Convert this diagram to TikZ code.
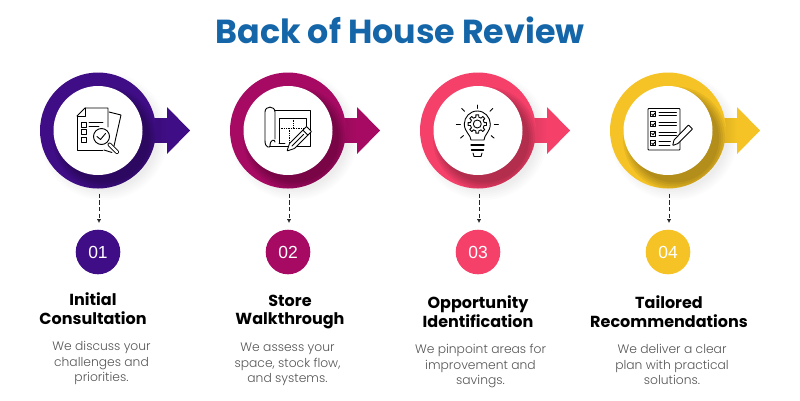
\documentclass[tikz,border=0pt]{standalone}
\usepackage{fontspec}
\setmainfont{Poppins}
\newfontfamily\lightfont{Poppins Light}
\newfontfamily\numfont{Liberation Sans}
\usetikzlibrary{arrows.meta}

\definecolor{stepA}{HTML}{3F0D85}
\definecolor{stepB}{HTML}{A70A63}
\definecolor{stepC}{HTML}{F5406A}
\definecolor{stepD}{HTML}{F5C325}
\definecolor{headblue}{HTML}{1466A9}
\definecolor{bodygrey}{HTML}{555555}

\tikzset{
  ringnode/.style={circle, minimum size=116pt, inner sep=0pt},
  holenode/.style={circle, fill=white, minimum size=89pt, inner sep=0pt},
  numnode/.style={circle, minimum size=44.6pt, inner sep=0pt, text=white, font=\numfont\fontsize{17.5}{20}\selectfont},
  flowdash/.style={black!85, line width=0.8pt, dash pattern=on 4.3pt off 2.4pt, shorten <=5pt, shorten >=6.5pt, -{Latex[length=4pt,width=4.5pt]}},
  stepname/.style={align=center, inner sep=0pt, font=\bfseries\fontsize{16}{18.8}\selectfont},
  stepbody/.style={align=center, inner sep=0pt, text=bodygrey, font=\lightfont\fontsize{12.3}{15.4}\selectfont},
  iconline/.style={black, line width=0.9pt, line join=round, line cap=round},
  iconthick/.style={black, line width=1.3pt, line cap=round}
}

\begin{document}
\begin{tikzpicture}[x=1pt, y=-1pt]
  \useasboundingbox (0,0) rectangle (800,400);

  \node[text=headblue, inner sep=0pt, font=\bfseries\fontsize{33.3}{36}\selectfont] (maintitle) at (400, 30) {Back of House Review};

  \foreach \i/\x/\col/\num in {1/98/stepA/01, 2/288/stepB/02, 3/478/stepC/03, 4/668/stepD/04}
  {
  \begin{scope}[shift={(\x,0)}]
    % soft shadow round the ring
    \foreach \r in {54,56,...,64}
    {
    \fill[black, opacity=0.012] (6,136) circle (\r pt);
    }
    \fill[\col] (50,118.5) -- (69,118.5) -- (69,107) -- (92,130.5) -- (69,154) -- (69,142) -- (50,142) -- cycle;
    \shade[left color=\col!88!black, right color=\col] (50,118.5) rectangle (69,142);
    \node[ringnode, fill=\col] (ring\i) at (0,130.5) {};
    \begin{scope}
      \clip (0,130.5) circle (58pt);
      \foreach \r in {44,46,...,52}
      {
      \fill[black, opacity=0.06] (7,138.5) circle (\r pt);
      }
    \end{scope}
    \node[holenode] (hole\i) at (0,130.5) {};
    \node[numnode, fill=\col] (num\i) at (0,252) {\num};
  \end{scope}
  \draw[flowdash] ([xshift=1pt]ring\i.south) -- ([xshift=1pt]num\i.north);
  }

  % labels of the four steps
  \node[stepname] (name1) at (93, 309) {Initial\\Consultation};
  \node[stepname] (name2) at (290, 312) {Store\\Walkthrough};
  \node[stepname] (name3) at (478, 312) {Opportunity\\Identification};
  \node[stepname] (name4) at (669, 312) {Tailored\\Recommendations};

  \node[stepbody] (body1) at (101.5, 363) {We discuss your\\challenges and\\priorities.};
  \node[stepbody] (body2) at (287.5, 364.5) {We assess your\\space, stock flow,\\and systems.};
  \node[stepbody] (body3) at (480.5, 366) {We pinpoint areas for\\improvement and\\savings.};
  \node[stepbody] (body4) at (672, 364.5) {We deliver a clear\\plan with practical\\solutions.};

  % icon 1: papers and magnifier
  \draw[iconline] (109,112) -- (121,115) -- (114,146);
  \draw[iconline] (104,150) -- (112,152.5);
  \draw[iconline] (77,116) -- (85,108) -- (108,108) -- (108,127);
  \draw[iconline] (85,108) -- (85,116) -- (77,116) -- (77,150) -- (103,150);
  \foreach \y in {122,129.5,137}
  {
  \draw[iconline] (81,\y) rectangle (86,\y+5);
  }
  \draw[iconline] (89,122.7) -- (103,122.7);
  \draw[iconline] (89,126) -- (99,126);
  \draw[iconline, fill=white] (101.5,136.5) circle (8pt);
  \draw[iconline] (97,136.5) -- (100.5,139.5) -- (105.5,133.5);
  \draw[black, line width=4pt, line cap=round] (109.5,144.5) -- (117,152);
  \draw[white, line width=2.2pt, line cap=round] (109.5,144.5) -- (117,152);

  % icon 2: plan and pencil
  \draw[iconline] (275,110) -- (310,110) -- (310,146) -- (270,146);
  \draw[iconline] (265,141) -- (265,112) .. controls (265,105.5) and (275,105.5) .. (275,112) -- (275,139);
  \draw[iconline] (265,141) .. controls (265,148) and (270,148) .. (270,146) .. controls (270,139) and (275,139) .. (275,142);
  \draw[iconline] (279,143) -- (279,118.3) -- (306,118.3) -- (306,128);
  \draw[black, line width=0.7pt, densely dotted] (279,128.3) -- (306,128.3);
  \draw[black, line width=0.7pt, densely dotted] (293,118) -- (293,128);
  \draw[black, line width=0.7pt, densely dotted] (289,128) -- (289,143);
  \draw[iconline] (279,143) -- (285,143);
  \draw[iconline, fill=white, rounded corners=0.6pt] (287,151) -- (289.5,143.5) -- (306.5,126.5) -- (311.5,131.5) -- (294.5,148.5) -- cycle;
  \draw[iconline] (302.9,130.1) -- (307.9,135.1);
  \draw[iconline] (292,146) -- (303.5,134.5);

  % icon 3: bulb with gear
  \coordinate (gearc) at (477.3,124);
  \draw[iconline] (471,140) .. controls (471,135) and (464.3,132) .. (464.3,124) .. controls (464.3,117) and (470,111) .. (477.3,111) .. controls (484.6,111) and (490.3,117) .. (490.3,124) .. controls (490.3,132) and (484,135) .. (484,140) -- cycle;
  \draw[iconline] ([shift={(-12:7)}]gearc) foreach \a in {0,45,...,315}
  { -- ([shift={(\a-12:7)}]gearc) -- ([shift={(\a-9:9.3)}]gearc) -- ([shift={(\a+9:9.3)}]gearc) -- ([shift={(\a+12:7)}]gearc) } -- cycle;
  \draw[iconline] (gearc) circle (4pt);
  \draw[iconthick] (471,145) -- (484,145);
  \draw[iconthick] (471.5,150) -- (483.5,150);
  \draw[iconline] (473,153) -- (474,156.5) -- (481,156.5) -- (482,153);
  \foreach \a/\p/\q in {-90/15.5/19, 0/17/21, 180/17/21, -45/18/22, -135/18/22, 40/18/22, 140/18/22}
  {
  \draw[iconline] ([shift={(\a:\p)}]gearc) -- ([shift={(\a:\q)}]gearc);
  }

  % icon 4: checklist and pencil
  \draw[iconline, rounded corners=0.8pt] (648,108.5) rectangle (680,150);
  \foreach \y in {111.7,121.7,131,140.7}
  {
  \draw[iconline] (650.5,\y) rectangle (655.7,\y+5);
  \draw[iconline] (651.8,\y+2.5) -- (653,\y+3.8) -- (654.8,\y+1.5);
  }
  \foreach \y in {112.7,115.7,122,125,132,135.3}
  {
  \draw[iconline] (659,\y) -- (676.5,\y);
  }
  \draw[iconline] (659,141.7) -- (670.5,141.7);
  \draw[iconline] (659,145) -- (670,145);
  \draw[iconline, fill=white, rounded corners=0.6pt] (672.7,145.5) -- (674,140) -- (688.5,125) -- (692.5,129) -- (678,143.5) -- cycle;
\end{tikzpicture}
\end{document}
